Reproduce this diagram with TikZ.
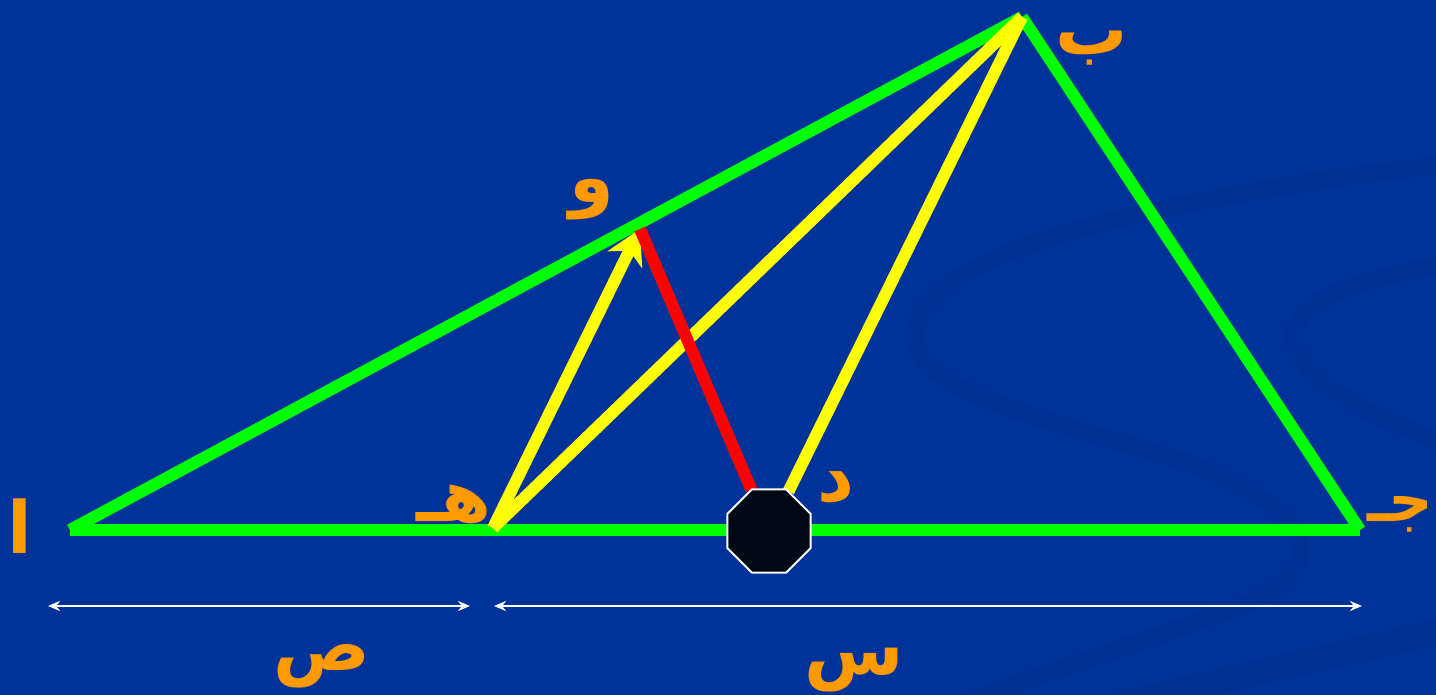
\documentclass[tikz,border=0pt]{standalone}
\usepackage{fontspec}
\TeXXeTstate=1
\newfontfamily\arabicfont[Script=Arabic]{DejaVu Sans}
\usetikzlibrary{arrows.meta, shapes.geometric, positioning}

\definecolor{slidebg}{RGB}{0,51,153}
\definecolor{swirlcol}{RGB}{0,48,147}
\definecolor{lettercol}{RGB}{255,153,0}
\definecolor{legcol}{RGB}{0,255,0}
\definecolor{segcol}{RGB}{255,255,0}
\definecolor{octcol}{RGB}{0,8,20}

\begin{document}
\begin{tikzpicture}[x=1pt, y=-1pt, line cap=butt]
        \tikzstyle{leg}=[draw=legcol, line width=12pt]
        \tikzstyle{seg}=[draw=segcol, line width=12pt]
        \tikzstyle{perp}=[draw=red, line width=12pt]
        \tikzstyle{swirl}=[draw=swirlcol, line width=18pt]
        \tikzstyle{letter}=[text=lettercol, font=\arabicfont\bfseries\fontsize{72}{76}\selectfont, inner sep=0pt]
        \tikzstyle{dim}=[draw=white, line width=2pt]
        % background
        \useasboundingbox (0,0) rectangle (1436,694);
        \fill[slidebg] (-10,-10) rectangle (1446,704);
        \begin{scope}
        \clip (-10,-10) rectangle (1446,704);
        \draw[swirl] (1446,164) .. controls (1150,200) and (930,250) .. (915,330)
              .. controls (905,390) and (1050,420) .. (1180,460)
              .. controls (1320,510) and (1340,570) .. (1230,610)
              .. controls (1150,640) and (1050,670) .. (960,704);
        \draw[swirl] (1446,264) .. controls (1330,285) and (1285,310) .. (1295,345)
              .. controls (1305,385) and (1380,420) .. (1446,444);
        \draw[swirl, line width=26pt] (1120,704) -- (1446,630);
        \end{scope}
        % points
        \coordinate (A) at (70,530);
        \coordinate (B) at (1022,17);
        \coordinate (C) at (1360,530);
        \coordinate (H) at (493,528);
        \coordinate (W) at (640,229);
        \node[regular polygon, regular polygon sides=8, minimum size=90pt, inner sep=0pt] (D) at (769,531) {};
        % triangle
        \path[leg]
        (A) edge (B)
        (B) edge (C)
        (C) edge (A);
        \path[seg]
        (H) edge (B)
        (B) edge (D);
        \draw[seg, -{Stealth[length=34pt,width=38pt,inset=10pt]}] (H) -- (W);
        \path[perp] (W) edge (D);
        \node[regular polygon, regular polygon sides=8, minimum size=90pt, inner sep=0pt,
              fill=octcol, draw=white, line width=2pt] at (D) {};
        % labels
        \node[letter] (lA) at (20,526) {\beginR ا\endR};
        \node[letter] (lB) at (1092,48) {\beginR ب\endR};
        \node[letter, font=\arabicfont\bfseries\fontsize{62}{66}\selectfont] (lC) at (1400,514) {\beginR جـ\endR};
        \node[letter] (lD) at (836,488) {\beginR د\endR};
        \node[letter] (lH) at (454,504) {\beginR هـ\endR};
        \node[letter] (lW) at (592,200) {\beginR و\endR};
        % lengths
        \coordinate (p1) at (48,606);
        \coordinate (p2) at (470,606);
        \coordinate (q1) at (494,606);
        \coordinate (q2) at (1362,606);
        \draw[dim, {Stealth[length=12pt,width=10pt]}-{Stealth[length=12pt,width=10pt]}] (p1) -- (p2);
        \draw[dim, {Stealth[length=12pt,width=10pt]}-{Stealth[length=12pt,width=10pt]}] (q1) -- (q2);
        \node[letter] (lY) at (322,666) {\beginR ص\endR};
        \node[letter] (lX) at (854,670) {\beginR س\endR};
\end{tikzpicture}
\end{document}
